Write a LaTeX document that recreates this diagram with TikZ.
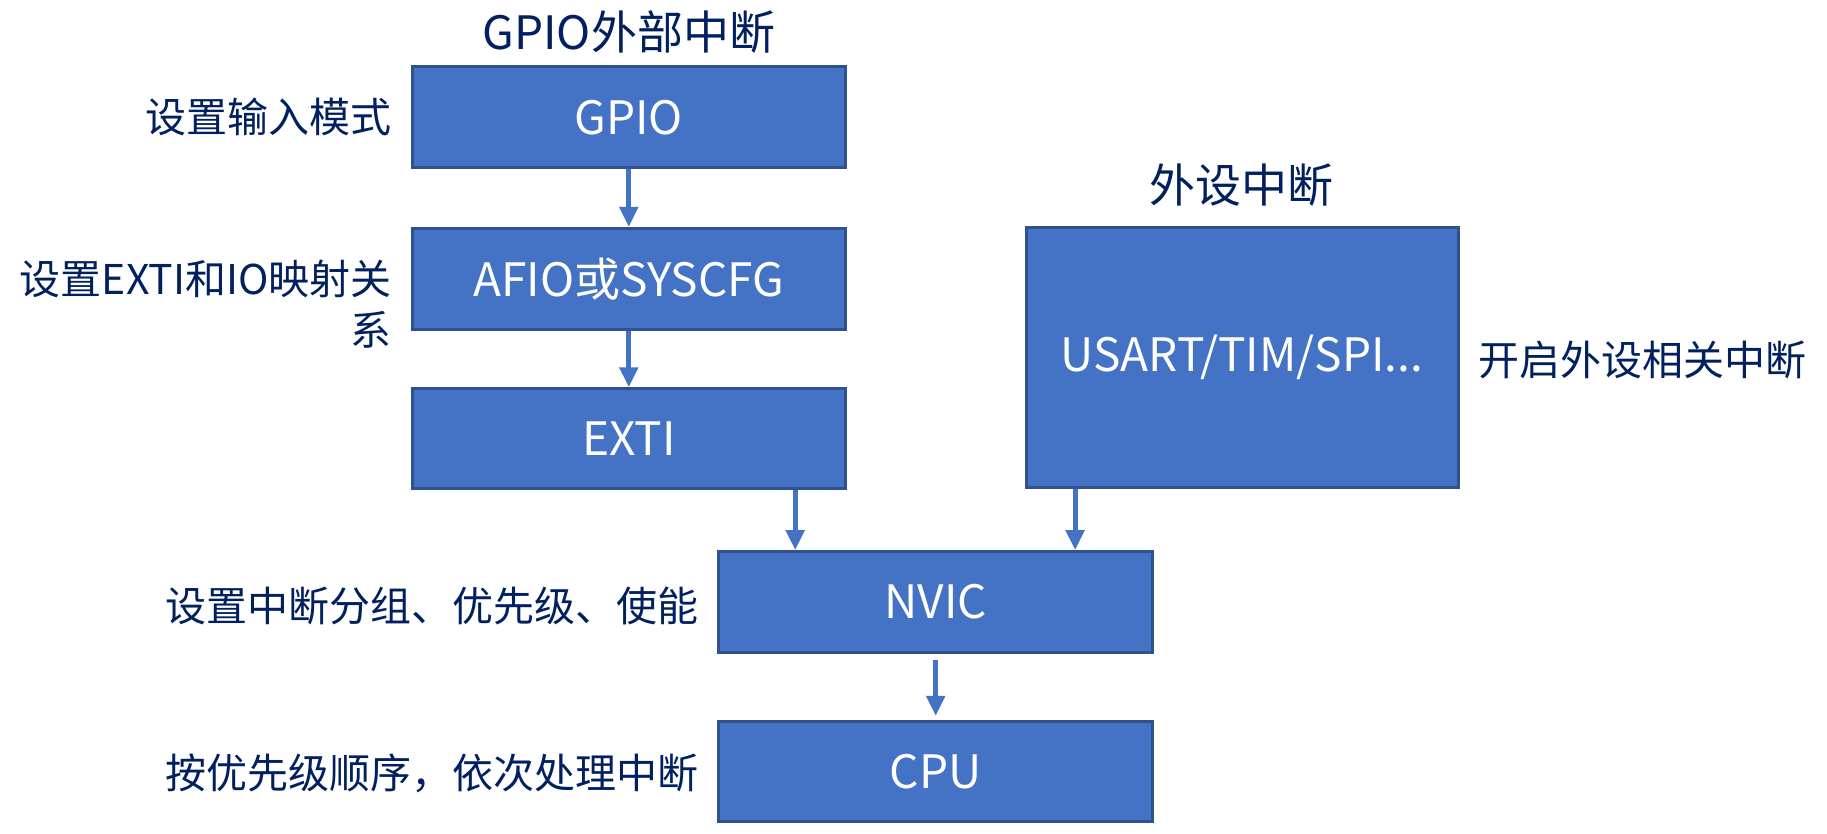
\documentclass[tikz,border=0pt]{standalone}
\usepackage{fontspec}
\setmainfont{Noto Sans CJK SC}
\usetikzlibrary{arrows.meta}
\definecolor{boxfill}{HTML}{4472C4}
\definecolor{boxline}{HTML}{2F528F}
\definecolor{navy}{HTML}{002060}
\begin{document}
\begin{tikzpicture}[x=0.5pt,y=-0.5pt,
  blk/.style={draw=boxline, fill=boxfill, line width=1.5pt, text=white, font=\fontsize{23}{27}\selectfont, inner sep=0pt, minimum width=216.8pt},
  lbl/.style={text=navy, font=\fontsize{20.5}{25.5}\selectfont, inner sep=0pt},
  ttl/.style={text=navy, font=\fontsize{23}{28}\selectfont, inner sep=0pt},
  arr/.style={draw=boxfill, line width=2.5pt, -{Triangle[length=10pt,width=9pt]}}]
\useasboundingbox (0,0) rectangle (1827,834);
\fill[white] (0,0) rectangle (1827,834);
% titles
\node[ttl] (t1) at (628.8,31.6) {GPIO外部中断};
\node[ttl] (t2) at (1241.5,185) {外设中断};
% boxes
\node[blk, minimum height=50.35pt] (gpio) at (628.8,117.2) {GPIO};
\node[blk, minimum height=50.35pt] (afio) at (628.8,278.8) {AFIO或SYSCFG};
\node[blk, minimum height=49.8pt] (exti) at (628.8,438.6) {EXTI};
\node[blk, minimum width=216pt, minimum height=130pt] (usart) at (1242,357.2) {USART/TIM/SPI...};
\node[blk, minimum height=50.35pt] (nvic) at (935.7,602) {NVIC};
\node[blk, minimum height=49.8pt] (cpu) at (935.7,771.2) {CPU};
% labels
\node[lbl, anchor=east] (l1) at (392,117) {设置输入模式};
\node[lbl, anchor=east, align=right] (l2) at (392,304.5) {设置EXTI和IO映射关\\系};
\node[lbl, anchor=west] (l3) at (1478,359.5) {开启外设相关中断};
\node[lbl, anchor=east] (l4) at (699,605.5) {设置中断分组、优先级、使能};
\node[lbl, anchor=east] (l5) at (699,773) {按优先级顺序，依次处理中断};
% arrows
\coordinate (c1) at (795.2,0);
\coordinate (c2) at (1075.1,0);
\draw[arr] (gpio.south) -- (afio.north);
\draw[arr] (afio.south) -- (exti.north);
\draw[arr] (exti.south -| c1) -- (nvic.north -| c1);
\draw[arr] (usart.south -| c2) -- (nvic.north -| c2);
\draw[arr, shorten <=3pt, shorten >=2pt] (nvic.south) -- (cpu.north);
\end{tikzpicture}
\end{document}
